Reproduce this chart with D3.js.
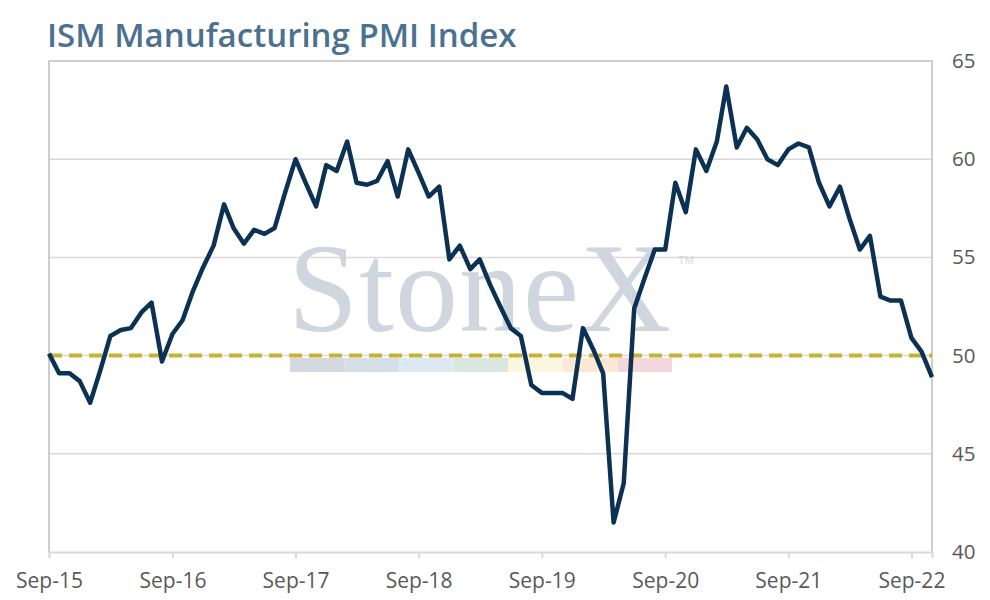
<!DOCTYPE html>
<html>
<head>
<meta charset="utf-8">
<script src="https://cdn.jsdelivr.net/npm/d3@7"></script>
<style>
  body { margin: 0; background: #fff; }
  svg { display: block; }
</style>
</head>
<body>
<svg id="chart" width="990" height="600"></svg>
<script>
// monthly ISM PMI readings, Sep-15 through Nov-22
var startMonth = "2015-09";
var pmi = [
  50.1, 49.1, 49.1, 48.7,
  47.6, 49.3, 51.0, 51.3, 51.4, 52.2, 52.7, 49.7, 51.1, 51.8, 53.3, 54.5,
  55.6, 57.7, 56.5, 55.7, 56.4, 56.2, 56.5, 58.3, 60.0, 58.8, 57.6, 59.7,
  59.4, 60.9, 58.8, 58.7, 58.9, 59.9, 58.1, 60.5, 59.3, 58.1, 58.6, 54.9,
  55.6, 54.4, 54.9, 53.6, 52.5, 51.4, 51.0, 48.5, 48.1, 48.1, 48.1, 47.8,
  51.4, 50.3, 49.1, 41.5, 43.5, 52.4, 53.9, 55.4, 55.4, 58.8, 57.3, 60.5,
  59.4, 60.9, 63.7, 60.6, 61.6, 61.0, 60.0, 59.7, 60.5, 60.8, 60.6, 58.8,
  57.6, 58.6, 57.0, 55.4, 56.1, 53.0, 52.8, 52.8, 50.9, 50.2, 48.9
];
var yTicks = [40, 45, 50, 55, 60, 65];
var xTickLabels = ["Sep-15", "Sep-16", "Sep-17", "Sep-18", "Sep-19", "Sep-20", "Sep-21", "Sep-22"];
var refLevel = 50;
var stripColors = ["#d4d9e0", "#d6dfe8", "#deeaf3", "#d9e7de", "#fbf7de", "#fbe9d6", "#f4d7da"];

var parseMonth = d3.timeParse("%Y-%m");
var t0 = parseMonth(startMonth);
var data = pmi.map(function(v, i) {
  return { date: d3.timeMonth.offset(t0, i), value: v };
});

var svg = d3.select("#chart");
var plotL = 49, plotR = 932, plotT = 61, plotB = 552;

var x = d3.scaleTime()
  .domain([data[0].date, data[data.length - 1].date])
  .range([plotL, plotR]);
var y = d3.scaleLinear().domain([40, 65]).range([plotB, plotT]);

// title
svg.append("text")
  .attr("x", 47).attr("y", 47)
  .attr("font-family", "'Open Sans', Lato, sans-serif")
  .attr("font-weight", 600)
  .attr("font-size", 33)
  .attr("fill", "#4b7190")
  .text("ISM Manufacturing PMI Index");

// gridlines
svg.append("g").selectAll("line")
  .data(yTicks.filter(function(d) { return d > 40 && d < 65; }))
  .enter().append("line")
  .attr("x1", plotL).attr("x2", plotR)
  .attr("y1", function(d) { return y(d); })
  .attr("y2", function(d) { return y(d); })
  .attr("stroke", "#d9d9d9")
  .attr("stroke-width", 1.5);

// frame: top, left, right
svg.append("path")
  .attr("d", "M" + plotL + "," + y(40) + "V" + y(65) + "H" + plotR + "V" + y(40))
  .attr("fill", "none")
  .attr("stroke", "#bfbfbf")
  .attr("stroke-width", 1.5);

// watermark
var wm = svg.append("g");
wm.append("text")
  .attr("x", 288).attr("y", 331)
  .attr("font-family", "'Liberation Serif', 'DejaVu Serif', serif")
  .attr("font-size", 126)
  .attr("textLength", 383)
  .attr("fill", "#cfd6de")
  .text("StoneX");
wm.append("text")
  .attr("x", 678).attr("y", 264)
  .attr("font-family", "'Liberation Sans', sans-serif")
  .attr("font-size", 11)
  .attr("fill", "#d2d8df")
  .text("TM");
var stripX = d3.scaleBand().domain(d3.range(stripColors.length)).range([290, 672]);
wm.selectAll("rect")
  .data(stripColors)
  .enter().append("rect")
  .attr("x", function(d, i) { return stripX(i); })
  .attr("y", 358)
  .attr("width", stripX.bandwidth())
  .attr("height", 14)
  .attr("fill", function(d) { return d; });

// x axis
var xTicks = d3.range(xTickLabels.length).map(function(i) { return d3.timeMonth.offset(t0, 12 * i); });
var xAxis = d3.axisBottom(x)
  .tickValues(xTicks)
  .tickFormat(function(d, i) { return xTickLabels[i]; })
  .tickSize(6)
  .tickPadding(15);
var gx = svg.append("g")
  .attr("transform", "translate(0," + plotB + ")")
  .call(xAxis);
gx.select(".domain").attr("stroke", "#d9d9d9").attr("stroke-width", 2);
gx.selectAll(".tick line").attr("stroke", "#d9d9d9").attr("stroke-width", 2);
gx.selectAll("text")
  .attr("font-family", "'Open Sans', Lato, sans-serif")
  .attr("font-size", 21)
  .attr("fill", "#595959");

// y axis on right
var yAxis = d3.axisRight(y).tickValues(yTicks).tickSize(0).tickPadding(20);
var gy = svg.append("g")
  .attr("transform", "translate(" + plotR + ",0)")
  .call(yAxis);
gy.select(".domain").remove();
gy.selectAll("text")
  .attr("font-family", "'Open Sans', Lato, sans-serif")
  .attr("font-size", 20.5)
  .attr("fill", "#595959");

// 50 reference dashed line
svg.append("line")
  .attr("x1", plotL).attr("x2", plotR)
  .attr("y1", y(refLevel)).attr("y2", y(refLevel))
  .attr("stroke", "#c8b232")
  .attr("stroke-width", 4)
  .attr("stroke-dasharray", "13,7");

// PMI line
var line = d3.line()
  .x(function(d) { return x(d.date); })
  .y(function(d) { return y(d.value); });
svg.append("path")
  .datum(data)
  .attr("d", line)
  .attr("fill", "none")
  .attr("stroke", "#0b3254")
  .attr("stroke-width", 4.5)
  .attr("stroke-linejoin", "round");
</script>
</body>
</html>
